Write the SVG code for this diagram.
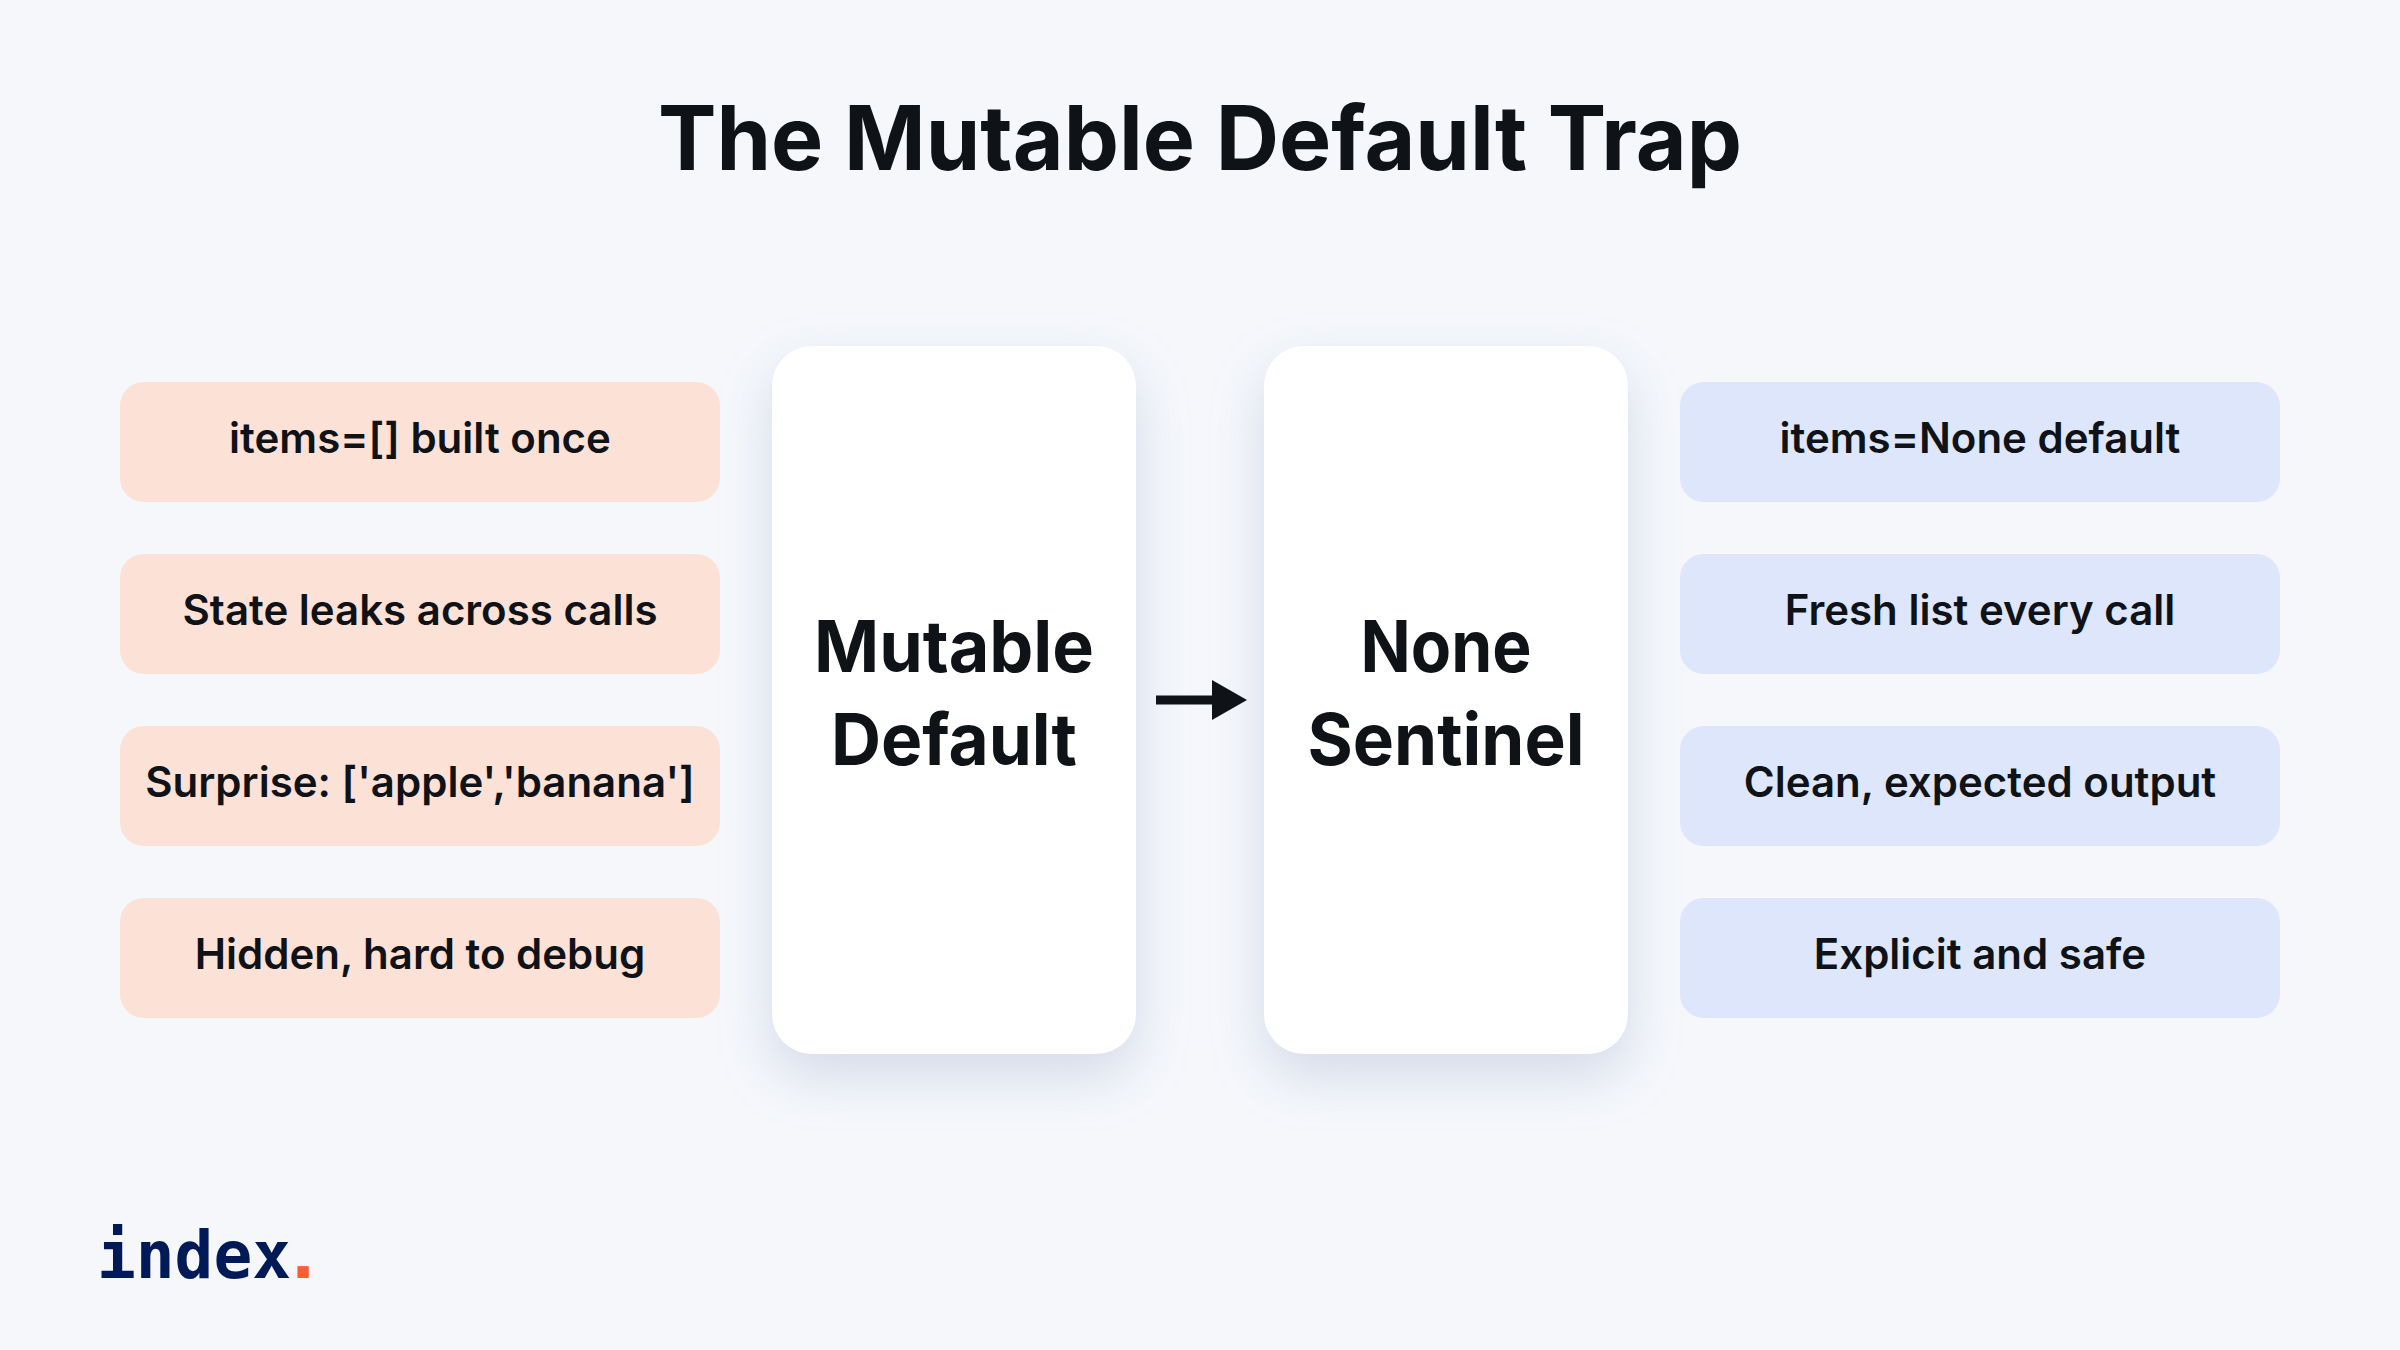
<svg xmlns="http://www.w3.org/2000/svg" width="2400" height="1350" viewBox="0 0 2400 1350">
<style>
.t{font-family:"Inter","Liberation Sans",sans-serif;fill:#0f1216;text-anchor:middle}
.title{font-size:89px;font-weight:700}
.card-t{font-size:72px;font-weight:700}
.pill-t{font-size:42px;font-weight:600}
.warm{fill:#fce1d6}.cool{fill:#dde6fb}
.card{fill:#fff;filter:url(#sh)}
.logo{font-family:"DejaVu Sans Mono","Liberation Mono",monospace;font-weight:700}
</style>
<defs>
<filter id="sh" x="-40%" y="-20%" width="180%" height="140%"><feDropShadow dx="0" dy="22" stdDeviation="26" flood-color="#9aa8cc" flood-opacity="0.36"/></filter>
<marker id="ah" markerUnits="userSpaceOnUse" markerWidth="36" markerHeight="40" refX="0" refY="20" orient="auto"><path d="M0 0L35 20L0 40Z" fill="#0f1216"/></marker>
</defs>
<rect width="2400" height="1350" fill="#f5f7fb"/>
<text id="title" class="t title" x="1200" y="170" textLength="1084" lengthAdjust="spacingAndGlyphs">The Mutable Default Trap</text>
<g id="card-mutable"><rect class="card" x="772" y="346" width="364" height="708" rx="40"/>
<text class="t card-t" x="954" y="672" textLength="280" lengthAdjust="spacingAndGlyphs">Mutable</text><text class="t card-t" x="954" y="765" textLength="246" lengthAdjust="spacingAndGlyphs">Default</text></g>
<g id="card-none"><rect class="card" x="1264" y="346" width="364" height="708" rx="40"/>
<text class="t card-t" x="1446" y="672" textLength="171" lengthAdjust="spacingAndGlyphs">None</text><text class="t card-t" x="1446" y="765" textLength="277" lengthAdjust="spacingAndGlyphs">Sentinel</text></g>
<g id="connectors"><line x1="1156" y1="700" x2="1212" y2="700" stroke="#0f1216" stroke-width="9" marker-end="url(#ah)"/></g>
<g id="l1"><rect class="warm" x="120" y="382" width="600" height="120" rx="24"/><text class="t pill-t" x="420" y="453">items=[] built once</text></g>
<g id="l2"><rect class="warm" x="120" y="554" width="600" height="120" rx="24"/><text class="t pill-t" x="420" y="625">State leaks across calls</text></g>
<g id="l3"><rect class="warm" x="120" y="726" width="600" height="120" rx="24"/><text class="t pill-t" x="420" y="797">Surprise: ['apple','banana']</text></g>
<g id="l4"><rect class="warm" x="120" y="898" width="600" height="120" rx="24"/><text class="t pill-t" x="420" y="969">Hidden, hard to debug</text></g>
<g id="r1"><rect class="cool" x="1680" y="382" width="600" height="120" rx="24"/><text class="t pill-t" x="1980" y="453">items=None default</text></g>
<g id="r2"><rect class="cool" x="1680" y="554" width="600" height="120" rx="24"/><text class="t pill-t" x="1980" y="625">Fresh list every call</text></g>
<g id="r3"><rect class="cool" x="1680" y="726" width="600" height="120" rx="24"/><text class="t pill-t" x="1980" y="797">Clean, expected output</text></g>
<g id="r4"><rect class="cool" x="1680" y="898" width="600" height="120" rx="24"/><text class="t pill-t" x="1980" y="969">Explicit and safe</text></g>
<g id="logo"><text class="logo" x="97" y="1278" font-size="66" fill="#001a57" textLength="194" lengthAdjust="spacingAndGlyphs">index</text><text x="303" y="1278" font-family="'Liberation Sans',sans-serif" font-weight="700" font-size="80" fill="#ff5c35" text-anchor="middle">.</text></g>
</svg>
